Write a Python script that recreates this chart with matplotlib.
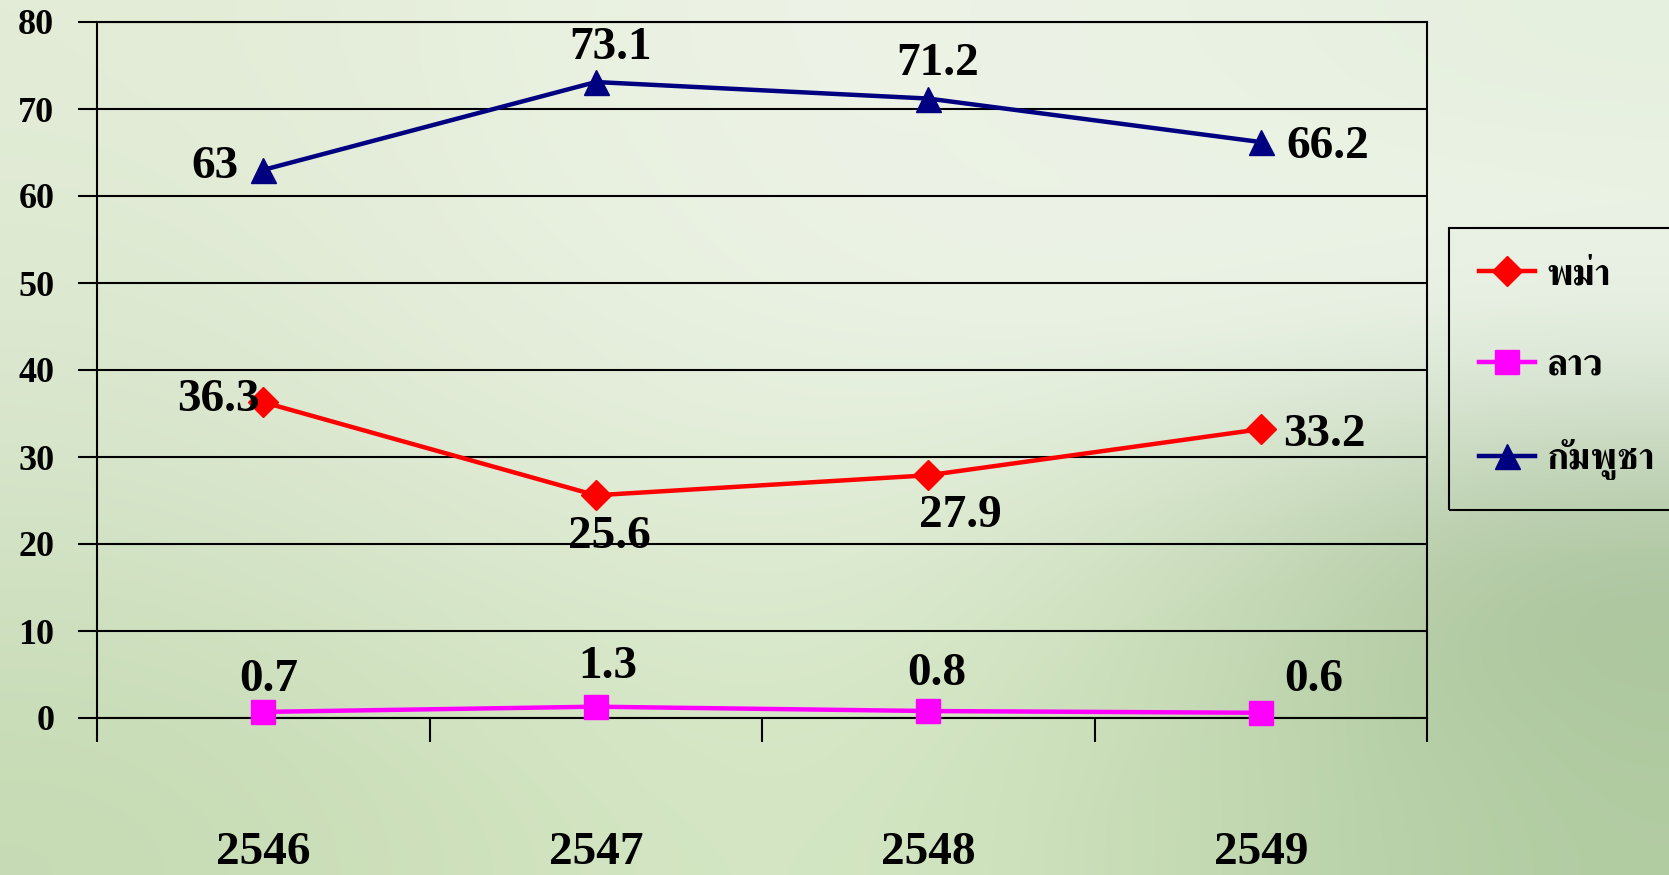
import numpy as np
import matplotlib
matplotlib.use('Agg')
import matplotlib.pyplot as plt
from matplotlib import font_manager
from matplotlib.ft2font import FT2Font
from matplotlib.colors import to_rgb
from matplotlib.transforms import blended_transform_factory

# ---------------- data ----------------
years = ['2546', '2547', '2548', '2549']
myanmar = [36.3, 25.6, 27.9, 33.2]
laos = [0.7, 1.3, 0.8, 0.6]
cambodia = [63, 73.1, 71.2, 66.2]
series_names = ['พม่า', 'ลาว', 'กัมพูชา']
y_ticks = [0, 10, 20, 30, 40, 50, 60, 70, 80]

# ---------------- fonts ----------------
def find_thai_family():
    test = 'พม่าลวกัมพูชา'
    best = None
    for f in font_manager.fontManager.ttflist:
        try:
            cm = FT2Font(f.fname).get_charmap()
        except Exception:
            continue
        if all(ord(c) in cm for c in test):
            score = 0
            w = f.weight if isinstance(f.weight, int) else 400
            if w >= 600:
                score += 2
            if 'serif' in f.name.lower() and 'sans' not in f.name.lower():
                score += 1
            if best is None or score > best[0]:
                best = (score, f.name)
    return best[1] if best else None

thai_family = find_thai_family()
thai_fams = ([thai_family] if thai_family else []) + ['DejaVu Sans']
serif = 'Liberation Serif'

W, H = 1669, 875
fig = plt.figure(figsize=(W / 100, H / 100), dpi=100)

# ---------------- background gradient ----------------
bg_rows = [
    ['#e2ecd6', '#e8f0de', '#eef4e8', '#eaf2e4', '#e6f0de'],
    ['#dce8d0', '#e6eedc', '#eaf2e4', '#eef5ea', '#f0f6ee'],
    ['#d2e2c4', '#dbe8cf', '#e0edd4', '#cfe0c0', '#a4be96'],
    ['#c6dbb4', '#cfe2bd', '#d6e8c6', '#c6dcb4', '#b2cca2'],
]
bg = np.array([[to_rgb(c) for c in r] for r in bg_rows])
bgax = fig.add_axes([0, 0, 1, 1], zorder=-10)
bgax.imshow(bg, aspect='auto', interpolation='bicubic', extent=[0, 1, 0, 1])
bgax.set_axis_off()

# ---------------- main axes ----------------
left, right, top, bottom = 97, 1427, 22, 718
ax = fig.add_axes([left / W, 1 - bottom / H, (right - left) / W, (bottom - top) / H])
ax.set_facecolor('none')
x = np.arange(len(years)) + 0.5
ax.set_xlim(0, len(years))
ax.set_ylim(0, 80)
ax.set_yticks(y_ticks)
ax.set_yticklabels([str(v) for v in y_ticks], fontfamily=serif, fontweight='bold', fontsize=26)
ax.set_xticks(np.arange(len(years) + 1))
ax.set_xticklabels([])
ax.tick_params(axis='x', length=17.3, width=1.5, direction='out', color='black')
ax.tick_params(axis='y', length=13.7, width=1.5, direction='out', color='black', pad=17)
for s in ax.spines.values():
    s.set_linewidth(1.5)
    s.set_color('black')
ax.grid(axis='y', color='black', linewidth=1.5)
ax.set_axisbelow(True)

trans = blended_transform_factory(ax.transData, ax.transAxes)
for xi, yr in zip(x, years):
    ax.text(xi, -135 / (bottom - top), yr, transform=trans, ha='center', va='center',
            fontfamily=serif, fontweight='bold', fontsize=34, clip_on=False)

styles = [
    dict(color='#ff0000', marker='D', ms=15),
    dict(color='#ff00ff', marker='s', ms=17),
    dict(color='#000080', marker='^', ms=18),
]
series = [myanmar, laos, cambodia]
handles = []
for vals, st, name in zip(series, styles, series_names):
    h, = ax.plot(x, vals, color=st['color'], marker=st['marker'], ms=st['ms'],
                 lw=3.2, mec=st['color'], mfc=st['color'], clip_on=False, zorder=5,
                 label=name)
    handles.append(h)

# label offsets in pixels (dx, dy up), alignment
label_pos = [
    [(-4, 2, 'right'), (14, -42, 'center'), (32, -41, 'center'), (22, -6, 'left')],
    [(5, 32, 'center'), (12, 40, 'center'), (9, 37, 'center'), (53, 33, 'center')],
    [(-25, 3, 'right'), (15, 34, 'center'), (9, 35, 'center'), (26, -5, 'left')],
]
for vals, offs in zip(series, label_pos):
    for xi, v, (dx, dy, ha) in zip(x, vals, offs):
        ax.annotate(f'{v:g}', (xi, v), xytext=(dx * 0.72, dy * 0.72), textcoords='offset points',
                    ha=ha, va='center', fontfamily=serif, fontweight='bold', fontsize=34,
                    zorder=6, annotation_clip=False)

leg = ax.legend(handles=handles, loc='upper left',
                bbox_to_anchor=(1449 / W, 1 - 228 / H), bbox_transform=fig.transFigure,
                frameon=True, fancybox=False, edgecolor='black', facecolor='none',
                borderaxespad=0, borderpad=0.8, handlelength=1.5, handletextpad=0.3,
                labelspacing=1.5,
                prop=dict(family=thai_fams, weight='bold', size=27))
leg.get_frame().set_linewidth(1.5)
leg.get_frame().set_alpha(None)

fig.savefig('out.png', dpi=100)
